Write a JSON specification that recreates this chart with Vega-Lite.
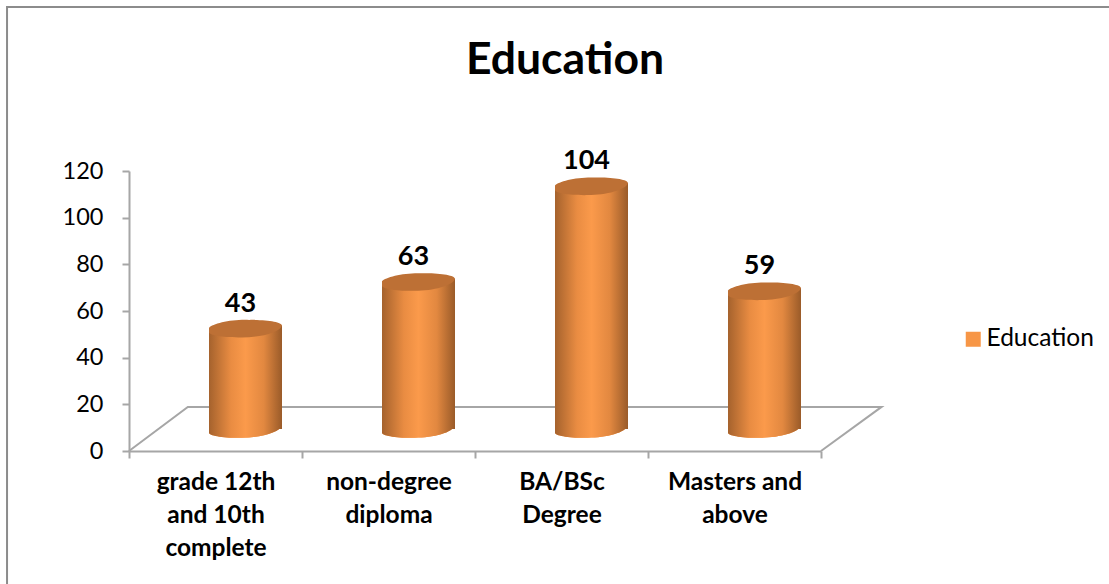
{
  "$schema": "https://vega.github.io/schema/vega-lite/v6.json",
  "width": 692,
  "height": 280,
  "padding": {"left": 129, "top": 171, "right": 288, "bottom": 133},
  "autosize": "none",
  "background": "white",
  "config": {"view": {"stroke": null}, "font": "Lato"},
  "title": {
    "text": "Education",
    "font": "Lato",
    "fontSize": 44.5,
    "fontWeight": "bold",
    "color": "#000000",
    "anchor": "middle",
    "frame": "group",
    "dx": 90,
    "offset": 0,
    "dy": 113,
    "baseline": "alphabetic"
  },
  "datasets": {
    "education": [
      {"level": "grade 12th and 10th complete", "count": 43, "series": "Education"},
      {"level": "non-degree diploma", "count": 63, "series": "Education"},
      {"level": "BA/BSc Degree", "count": 104, "series": "Education"},
      {"level": "Masters and above", "count": 59, "series": "Education"}
    ],
    "floor": [
      {"step": 1, "along": 0, "height": 0},
      {"step": 2, "along": 0.34, "height": 18.9},
      {"step": 3, "along": 4.35, "height": 18.9},
      {"step": 4, "along": 4, "height": 0}
    ],
    "frame": [
      {"left": -0.705, "right": 5.8, "bottom": -64, "top": 190.3}
    ]
  },
  "resolve": {"scale": {"x": "independent"}},
  "layer": [
    {
      "data": {"name": "frame"},
      "mark": {"type": "rect", "fill": null, "stroke": "#8c8c8c", "strokeWidth": 2, "clip": false},
      "encoding": {
        "x": {"field": "left", "type": "quantitative", "scale": {"domain": [0, 4]}, "axis": null},
        "x2": {"field": "right"},
        "y": {"field": "bottom", "type": "quantitative", "scale": {"domain": [0, 120]}, "axis": {"values": [0, 20, 40, 60, 80, 100, 120], "title": null, "grid": false, "domainColor": "#a6a6a6", "domainWidth": 2, "tickColor": "#a6a6a6", "tickWidth": 2, "tickSize": 7, "labelFont": "Lato", "labelFontSize": 23.5, "labelColor": "#000000", "labelPadding": 19}},
        "y2": {"field": "top"}
      }
    },
    {
      "data": {"name": "floor"},
      "mark": {"type": "line", "stroke": "#a6a6a6", "strokeWidth": 2, "clip": false},
      "encoding": {
        "x": {"field": "along", "type": "quantitative", "scale": {"domain": [0, 4]}, "axis": null},
        "y": {"field": "height", "type": "quantitative"},
        "order": {"field": "step", "type": "quantitative"}
      }
    },
    {
      "data": {"name": "education"},
      "layer": [
        {
          "mark": {"type": "point", "filled": true, "opacity": 1, "size": 5329, "xOffset": 30, "yOffset": -22, "shape": "M-1,-0.1 L1,-0.1 C0.95,0.1 0.4,0.24 -0.1,0.24 C-0.6,0.25 -1,0.18 -1,0.1 Z"},
          "encoding": {
            "y": {"datum": 0, "type": "quantitative"},
            "color": {
              "field": "series",
              "type": "nominal",
              "scale": {"range": ["#f79646"]},
              "legend": {"title": null, "orient": "none", "legendX": 832, "legendY": 156, "symbolType": "square", "symbolSize": 225, "symbolOpacity": 1, "labelFont": "Lato", "labelFontSize": 24.5, "labelColor": "#000000", "labelOffset": 1}
            }
          }
        },
        {
          "mark": {"type": "point", "filled": true, "opacity": 1, "size": 5329, "xOffset": 30, "yOffset": -22, "shape": "M-1,-0.1 L1,-0.1 C0.95,0.1 0.4,0.24 -0.1,0.24 C-0.6,0.25 -1,0.18 -1,0.1 Z",
            "fill": {"gradient": "linear", "x1": 0, "x2": 1, "y1": 0, "y2": 0, "stops": [{"offset": 0, "color": "#a5622d"}, {"offset": 0.3, "color": "#e98c42"}, {"offset": 0.5, "color": "#fb9a4b"}, {"offset": 0.75, "color": "#e28840"}, {"offset": 1, "color": "#9a5b29"}]}},
          "encoding": {"y": {"datum": 0, "type": "quantitative"}}
        },
        {
          "mark": {"type": "bar", "size": 73, "xOffset": 30, "yOffset": -22,
            "fill": {"gradient": "linear", "x1": 0, "x2": 1, "y1": 0, "y2": 0, "stops": [{"offset": 0, "color": "#a5622d"}, {"offset": 0.3, "color": "#e98c42"}, {"offset": 0.5, "color": "#fb9a4b"}, {"offset": 0.75, "color": "#e28840"}, {"offset": 1, "color": "#9a5b29"}]}},
          "encoding": {
            "x": {
              "field": "level",
              "type": "nominal",
              "sort": null,
              "scale": {"paddingInner": 0, "paddingOuter": 0},
              "axis": {
                "title": null,
                "grid": false,
                "labelAngle": 0,
                "labelAlign": "center",
                "labelBaseline": "top",
                "domainColor": "#a6a6a6",
                "domainWidth": 2,
                "tickColor": "#a6a6a6",
                "tickWidth": 2,
                "tickSize": 7,
                "tickBand": "extent",
                "labelFont": "Lato",
                "labelFontSize": 24.5,
                "labelFontWeight": "bold",
                "labelColor": "#000000",
                "labelPadding": 12,
                "labelLineHeight": 33,
                "labelLimit": 0,
                "labelExpr": "{'grade 12th and 10th complete':['grade 12th','and 10th','complete'],'non-degree diploma':['non-degree','diploma'],'BA/BSc Degree':['BA/BSc','Degree'],'Masters and above':['Masters and','above']}[datum.label]"
              }
            },
            "y": {"field": "count", "type": "quantitative"}
          }
        },
        {
          "mark": {"type": "point", "filled": true, "opacity": 1, "size": 5329, "xOffset": 30, "yOffset": -22, "shape": "M1,-0.09 L1,0.05 L-1,0.05 L-1,0 Z",
            "fill": {"gradient": "linear", "x1": 0, "x2": 1, "y1": 0, "y2": 0, "stops": [{"offset": 0, "color": "#a5622d"}, {"offset": 0.3, "color": "#e98c42"}, {"offset": 0.5, "color": "#fb9a4b"}, {"offset": 0.75, "color": "#e28840"}, {"offset": 1, "color": "#9a5b29"}]}},
          "encoding": {"y": {"field": "count", "type": "quantitative"}}
        },
        {
          "mark": {"type": "point", "filled": true, "opacity": 1, "size": 5329, "xOffset": 30, "yOffset": -22, "fill": "#bd7035", "shape": "M-1,-0.02 C-0.9,-0.14 -0.4,-0.26 0.1,-0.24 C0.6,-0.25 1,-0.18 1,-0.09 C0.95,0.1 0.4,0.24 -0.1,0.24 C-0.6,0.25 -1,0.18 -1,0.1 Z"},
          "encoding": {"y": {"field": "count", "type": "quantitative"}}
        },
        {
          "mark": {"type": "text", "font": "Lato", "fontSize": 27, "fontWeight": "bold", "color": "#000000", "dx": 25, "dy": -47, "baseline": "middle"},
          "encoding": {
            "y": {"field": "count", "type": "quantitative"},
            "text": {"field": "count", "type": "quantitative"}
          }
        }
      ],
      "encoding": {"x": {"field": "level", "type": "nominal", "sort": null}}
    }
  ]
}
